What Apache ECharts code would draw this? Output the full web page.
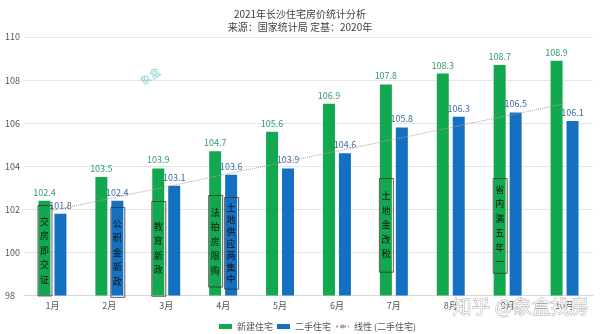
<!DOCTYPE html>
<html><head><meta charset="utf-8">
<script src="https://cdn.jsdelivr.net/npm/echarts@6/dist/echarts.min.js"></script>
<style>html,body{margin:0;padding:0;background:#fff}#c{width:600px;height:334px}</style>
</head><body><div id="c"></div>
<script>
const months = ['1月','2月','3月','4月','5月','6月','7月','8月','9月','10月'];
const newHomes = [102.4, 103.5, 103.9, 104.7, 105.6, 106.9, 107.8, 108.3, 108.7, 108.9];
const usedHomes = [101.8, 102.4, 103.1, 103.6, 103.9, 104.6, 105.8, 106.3, 106.5, 106.1];
const trendUsed = [101.95, null, null, null, null, null, null, null, null, 106.9];
const yTicks = [98, 100, 102, 104, 106, 108, 110];
// policy notes: [month index, which bar (0 new, 1 used), top value, bottom value, text]
const notes = [
  [0, 0, 102.2, 98.0, '交房即交证'],
  [1, 1, 102.1, 97.93, '公积金新政'],
  [2, 0, 102.4, 98.0, '教育新政'],
  [3, 0, 102.65, 98.4, '法拍房限购'],
  [3, 1, 102.55, 98.3, '土地供应两集中'],
  [6, 0, 103.45, 99.1, '土地金改税'],
  [8, 0, 103.45, 99.05, '省内满五年一']
];

const FONT = '"Noto Sans CJK SC", "Noto Sans", sans-serif';
const GREEN = '#12a84f', BLUE = '#1470c0';
const chart = echarts.init(document.getElementById('c'), null, {renderer: 'canvas'});
chart.setOption({
  animation: false,
  textStyle: {fontFamily: FONT},
  title: {
    text: '2021年长沙住宅房价统计分析\n来源：国家统计局 定基：2020年',
    left: 'center', top: 3,
    textStyle: {fontSize: 10, fontWeight: 'normal', color: '#404040', lineHeight: 13, fontFamily: FONT}
  },
  legend: {
    left: 214, top: 317, itemGap: 4, itemWidth: 13, itemHeight: 5,
    textStyle: {fontSize: 9, color: '#555', fontFamily: FONT},
    data: [
      {name: '新建住宅', icon: 'rect'},
      {name: '二手住宅', icon: 'rect'},
      {name: '线性 (二手住宅)'}
    ]
  },
  grid: {left: 24, right: 7, top: 37, bottom: 38.5, containLabel: false},
  xAxis: {
    type: 'category', data: months,
    axisLine: {lineStyle: {color: '#d9d9d9'}},
    axisTick: {show: false},
    axisLabel: {fontSize: 9, color: '#555', margin: 6, fontFamily: FONT}
  },
  yAxis: {
    type: 'value', min: yTicks[0], max: yTicks[yTicks.length - 1], interval: 2,
    axisLabel: {fontSize: 9, color: '#555', align: 'left', margin: 19, fontFamily: FONT},
    splitLine: {lineStyle: {color: '#e6e6e6'}},
    axisLine: {show: false}, axisTick: {show: false}
  },
  series: [
    {
      name: '新建住宅', type: 'bar', data: newHomes, barWidth: 12, barGap: '33%',
      itemStyle: {color: GREEN},
      label: {show: true, position: 'top', fontSize: 9, color: '#2e9c6c', distance: 4, fontFamily: FONT}
    },
    {
      name: '二手住宅', type: 'bar', data: usedHomes, barWidth: 12,
      itemStyle: {color: BLUE},
      label: {show: true, position: 'top', fontSize: 9, color: '#3a6b9e', distance: 4, fontFamily: FONT}
    },
    {
      name: '线性 (二手住宅)', type: 'line', data: trendUsed, connectNulls: true,
      symbol: 'none', showSymbol: false, z: 5,
      lineStyle: {color: '#b99b9b', width: 1, type: 'dotted'},
      itemStyle: {color: '#b99b9b'}
    },
    {
      name: 'notes', type: 'custom', z: 6, clip: false, silent: true,
      itemStyle: {color: 'rgba(0,0,0,0)'},
      data: notes,
      renderItem: function (params, api) {
        const idx = api.value(0);
        const side = api.value(1);
        const center = api.coord([idx, api.value(2)]);
        const bottom = api.coord([idx, api.value(3)]);
        const band = api.size([1, 0])[0];
        const x = center[0] + (side ? 1 : -1) * band * 0.14;
        const yTop = center[1], yBot = bottom[1];
        const w = 14;
        const txt = notes[params.dataIndex][4];
        const n = txt.length;
        const lh = Math.min(14.5, (yBot - yTop - 8) / n);
        const chars = txt.split('');
        const children = [
          {type: 'rect', shape: {x: x - w / 2 + 0.5, y: Math.round(yTop) + 0.5, width: w, height: yBot - yTop},
           style: {fill: 'rgba(0,0,0,0)', stroke: '#333', lineWidth: 0.8}}
        ];
        const mid = (yTop + yBot) / 2;
        chars.forEach(function (ch, i) {
          children.push({type: 'text', style: {
            text: ch, x: x, y: mid + (i - (n - 1) / 2) * lh,
            align: 'center', verticalAlign: 'middle',
            font: '9px ' + FONT, fill: '#111'}});
        });
        return {type: 'group', children: children};
      }
    }
  ],
  graphic: [
    {type: 'text', left: 452, top: 297, z: 100,
     style: {text: '知乎 @象盒找房', font: '19px ' + FONT, fill: 'rgba(255,255,255,0.85)', stroke: '#a8a8a8', lineWidth: 0.8}},
    {type: 'text', x: 138, y: 78, rotation: 0.6, z: 100,
     style: {text: '象盒', font: '11px ' + FONT, fill: '#5cc0cc', opacity: 0.7}}
  ]
});
</script></body></html>
